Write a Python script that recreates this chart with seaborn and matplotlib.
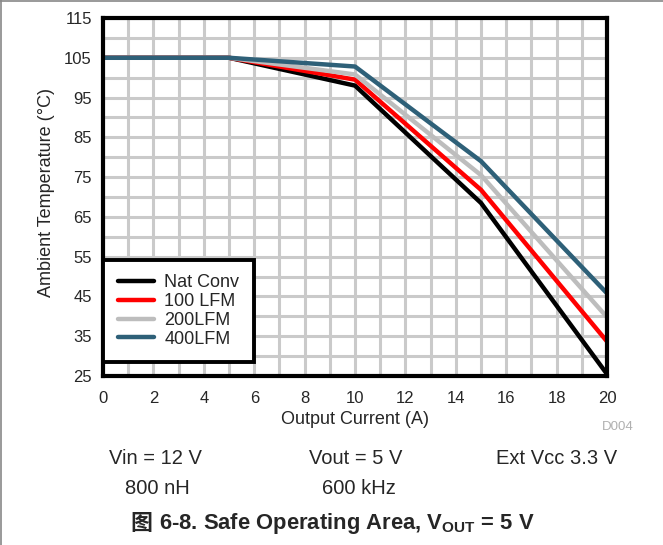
import matplotlib
matplotlib.use("Agg")
import matplotlib.pyplot as plt
from matplotlib.lines import Line2D
import seaborn as sns
import pandas as pd

# data
current = [0, 5, 10, 15, 20]
nat_conv = [105, 105, 98, 68.5, 25.5]
lfm_100 = [105, 105, 99.5, 71.8, 33.7]
lfm_200 = [105, 105, 100.8, 75.5, 39.8]
lfm_400 = [105, 105, 102.8, 79, 45.8]
series_names = ["Nat Conv", "100 LFM", "200LFM", "400LFM"]
series_colors = ["#000000", "#ff0000", "#bdbdbd", "#2e6078"]

x_ticks = list(range(0, 21, 2))
y_ticks = list(range(25, 116, 10))
x_label = "Output Current (A)"
y_label = "Ambient Temperature (\u00b0C)"
conditions = [("Vin = 12 V", 0.234), ("Vout = 5 V", 0.537), ("Ext Vcc 3.3 V", 0.84)]
conditions2 = [("800 nH", 0.237), ("600 kHz", 0.542)]

frames = []
for name, vals in zip(series_names, [nat_conv, lfm_100, lfm_200, lfm_400]):
    frames.append(pd.DataFrame({"current": current, "temp": vals, "series": name}))
df = pd.concat(frames, ignore_index=True)

sns.set_style("white")
plt.rcParams["font.family"] = ["Liberation Sans", "Noto Sans CJK SC"]
plt.rcParams["mathtext.fontset"] = "custom"
plt.rcParams["mathtext.rm"] = "Liberation Sans"
plt.rcParams["mathtext.bf"] = "Liberation Sans:bold"

fig = plt.figure(figsize=(6.63, 5.45), dpi=100)
ax = fig.add_axes([0.1555, 0.31, 0.760, 0.657])

sns.lineplot(data=df, x="current", y="temp", hue="series",
             palette=dict(zip(series_names, series_colors)),
             hue_order=series_names, linewidth=3.2, ax=ax, legend=True)

ax.set_xlim(0, 20)
ax.set_ylim(25, 115)
ax.set_xticks(x_ticks)
ax.set_yticks(y_ticks)
ax.set_xticks(range(0, 21), minor=True)
ax.set_yticks(range(25, 116, 5), minor=True)
ax.grid(True, which="both", color="#cacaca", linewidth=2.2)
ax.set_axisbelow(True)
ax.tick_params(axis="y", which="both", length=0, labelsize=12, pad=8)
ax.tick_params(axis="x", which="both", length=0, labelsize=12, pad=11)
for sp in ax.spines.values():
    sp.set_linewidth(3)
    sp.set_color("black")
    sp.set_zorder(5)
ax.set_xlabel(x_label, fontsize=13)
ax.set_ylabel(y_label, fontsize=13)
ax.xaxis.set_label_coords(0.5, -0.098)
ax.yaxis.set_label_coords(-0.095, 0.514)

leg = ax.legend(loc="lower left", bbox_to_anchor=(0.0, 0.039), fontsize=13,
                frameon=True, fancybox=False, handlelength=2.0,
                handletextpad=0.6, borderpad=0.8, labelspacing=0.1,
                borderaxespad=0.0)
leg.get_frame().set_edgecolor("black")
leg.get_frame().set_linewidth(2.8)
leg.get_frame().set_alpha(1)
for h in leg.get_lines():
    h.set_linewidth(3.2)

fig.text(0.955, 0.216, "D004", fontsize=9.5, color="#b0b0b0", ha="right", va="center")
for txt, xp in conditions:
    fig.text(xp, 0.158, txt, fontsize=14.5, ha="center", va="center")
for txt, xp in conditions2:
    fig.text(xp, 0.104, txt, fontsize=14.5, ha="center", va="center")

cap = fig.text(0.807, 0.04, "6-8. Safe Operating Area, $\\mathbf{V_{OUT}}$ = 5 V",
               fontsize=15.8, fontweight="bold", ha="right", va="center")
ax.annotate("图", xy=(0, 0.5), xycoords=cap, xytext=(-5, 0),
            textcoords="offset points", ha="right", va="center",
            fontsize=15.8, fontweight="bold", family="Noto Sans CJK SC",
            annotation_clip=False)

fig.add_artist(Line2D([0.001, 0.001], [0, 1], color="#888888", linewidth=1.2,
                      transform=fig.transFigure))
fig.add_artist(Line2D([0, 1], [0.999, 0.999], color="#888888", linewidth=1.2,
                      transform=fig.transFigure))

fig.savefig("out.png", dpi=100)
